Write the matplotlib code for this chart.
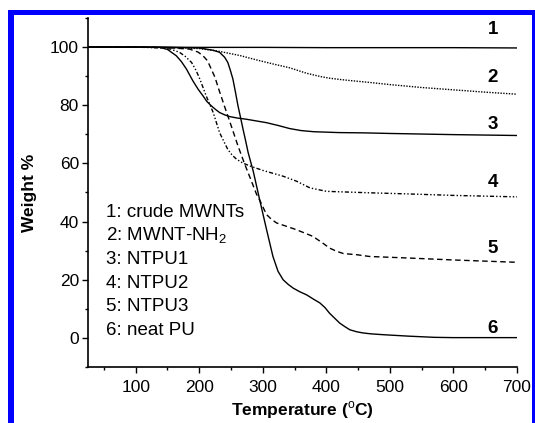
import matplotlib
matplotlib.use("Agg")
import matplotlib.pyplot as plt
from matplotlib.patches import Rectangle
from matplotlib.ticker import MultipleLocator

plt.rcParams['font.family'] = ['Liberation Sans', 'DejaVu Sans']
plt.rcParams['mathtext.fontset'] = 'custom'
plt.rcParams['mathtext.rm'] = 'Liberation Sans'

# ---- data ----
t1 = [25, 100, 200, 300, 400, 500, 600, 700]
w1 = [100, 100, 99.9, 99.9, 99.8, 99.8, 99.8, 99.7]

t2 = [25, 150, 200, 230, 264, 290, 316, 342, 369, 390, 405, 420, 437, 470, 500, 550, 600, 650, 700]
w2 = [100, 99.9, 99.5, 98.6, 97.1, 95.6, 94.2, 92.9, 91.0, 89.9, 89.3, 88.9, 88.5, 87.8, 87.1, 86.1, 85.3, 84.5, 83.8]

t3 = [25, 100, 138, 150, 164, 172, 180, 190, 198, 206, 212, 219, 226, 232, 240, 248, 260, 274, 290,
      306, 325, 342, 360, 380, 420, 460, 500, 600, 700]
w3 = [100, 100, 99.9, 99.2, 97.0, 95.0, 92.4, 88.4, 85.6, 83.2, 81.3, 79.8, 78.5, 77.5, 76.7, 76.1, 75.6, 75.2, 74.6,
      74.0, 73.0, 72.0, 71.3, 70.9, 70.6, 70.5, 70.3, 69.9, 69.6]

t4 = [25, 100, 140, 155, 169, 178, 188, 195, 201, 211, 222, 232, 240, 245, 252, 259, 268, 280, 300,
      332, 353, 374, 400, 468, 530, 600, 700]
w4 = [100, 100, 99.7, 99.3, 98.2, 96.8, 94.7, 92.0, 89.0, 83.2, 77.5, 70.6, 67.0, 64.8, 62.8, 61.4, 60.2, 59.1, 57.6,
      55.6, 53.9, 51.6, 50.4, 49.9, 49.5, 49.0, 48.5]

t5 = [25, 100, 150, 185, 198, 206, 213, 219, 225, 230, 240, 251, 261, 272, 282, 290, 296, 302, 306, 314,
      322, 337, 353, 379, 395, 405, 416, 427, 448, 468, 526, 600, 700]
w5 = [100, 100, 99.8, 99.3, 98.3, 97.0, 95.3, 92.4, 89.5, 86.0, 79.5, 72.5, 66.0, 59.5, 54.0, 49.5, 47.0, 44.2, 42.4, 40.7,
      39.5, 38.4, 37.2, 34.9, 32.5, 30.9, 29.8, 29.0, 28.6, 28.0, 27.5, 26.8, 26.0]

t6 = [25, 100, 150, 200, 211, 222, 232, 240, 245, 249, 253, 257, 261, 265, 269, 273, 277, 285, 295, 306,
      316, 324, 332, 340, 348, 358, 369, 380, 390, 398, 405, 413, 421, 429, 437, 448, 458, 470, 490, 530,
      570, 600, 700]
w6 = [100, 100, 99.9, 99.7, 99.3, 98.9, 98.2, 96.5, 94.7, 92.0, 89.0, 84.5, 79.8, 75.8, 71.7, 67.8, 63.7, 57.3, 47.6, 37.2,
      28.0, 22.9, 20.0, 18.4, 17.1, 15.9, 14.8, 13.3, 12.0, 10.4, 8.5, 6.8, 5.1, 3.9, 2.8, 2.1, 1.7, 1.4, 1.1, 0.6,
      0.2, 0.1, 0.1]

legend_lines = ['1: crude MWNTs', '2: MWNT-NH$_2$', '3: NTPU1', '4: NTPU2', '5: NTPU3', '6: neat PU']
curve_ids = ['1', '2', '3', '4', '5', '6']
curve_id_y = [106, 89.5, 73.4, 53.3, 30.9, 3.3]

# ---- figure ----
W, H = 535, 423
fig = plt.figure(figsize=(W / 100, H / 100), dpi=100)
fig.patch.set_facecolor('white')

# blue frame
blue = '#0000ff'
for (x0, y0, w, h) in [(8, 0, 6, 413), (8, 408, 527, 5), (532, 0, 3, 413)]:
    fig.patches.append(Rectangle((x0 / W, y0 / H), w / W, h / H, transform=fig.transFigure,
                                 facecolor=blue, edgecolor='none', zorder=0))

ax = fig.add_axes([88 / W, 56 / H, (517 - 88) / W, (367 - 18) / H])
ax.set_facecolor('white')

lw = 1.0
ax.plot(t1, w1, color='black', lw=lw, ls='-')
ax.plot(t2, w2, color='black', lw=lw, ls=(0, (1, 1)))
ax.plot(t3, w3, color='black', lw=lw, ls='-')
ax.plot(t4, w4, color='black', lw=lw, ls=(0, (3, 1.5, 1, 1.5, 1, 1.5)))
ax.plot(t5, w5, color='black', lw=lw, ls=(0, (4, 2.5)))
ax.plot(t6, w6, color='black', lw=lw, ls='-')

ax.set_xlim(25, 700)
ax.set_ylim(-10, 110)
ax.xaxis.set_major_locator(MultipleLocator(100))
ax.xaxis.set_minor_locator(MultipleLocator(50))
ax.yaxis.set_major_locator(MultipleLocator(20))
ax.yaxis.set_minor_locator(MultipleLocator(10))

for s in ['top', 'right']:
    ax.spines[s].set_visible(False)
for s in ['left', 'bottom']:
    ax.spines[s].set_linewidth(1.2)

ax.tick_params(which='major', direction='out', length=4.5, width=1.0, labelsize=12.5)
ax.tick_params(axis='x', which='major', pad=5)
ax.tick_params(axis='y', which='major', pad=2)
ax.tick_params(which='minor', direction='out', length=2.5, width=1.0)

ax.set_xlabel('Temperature ($^{\\mathrm{o}}$C)', fontsize=12.5, fontweight='bold', labelpad=3)
ax.set_ylabel('Weight %', fontsize=12.5, fontweight='bold', labelpad=9)

# legend text block
for i, s in enumerate(legend_lines):
    ax.text(54, 43.1 - i * 8.1, s, fontsize=13.5, ha='left', va='center')

for lab, yv in zip(curve_ids, curve_id_y):
    ax.text(662, yv, lab, fontsize=13.5, fontweight='bold', ha='center', va='center')

fig.savefig('out.png', dpi=100, facecolor='white')
